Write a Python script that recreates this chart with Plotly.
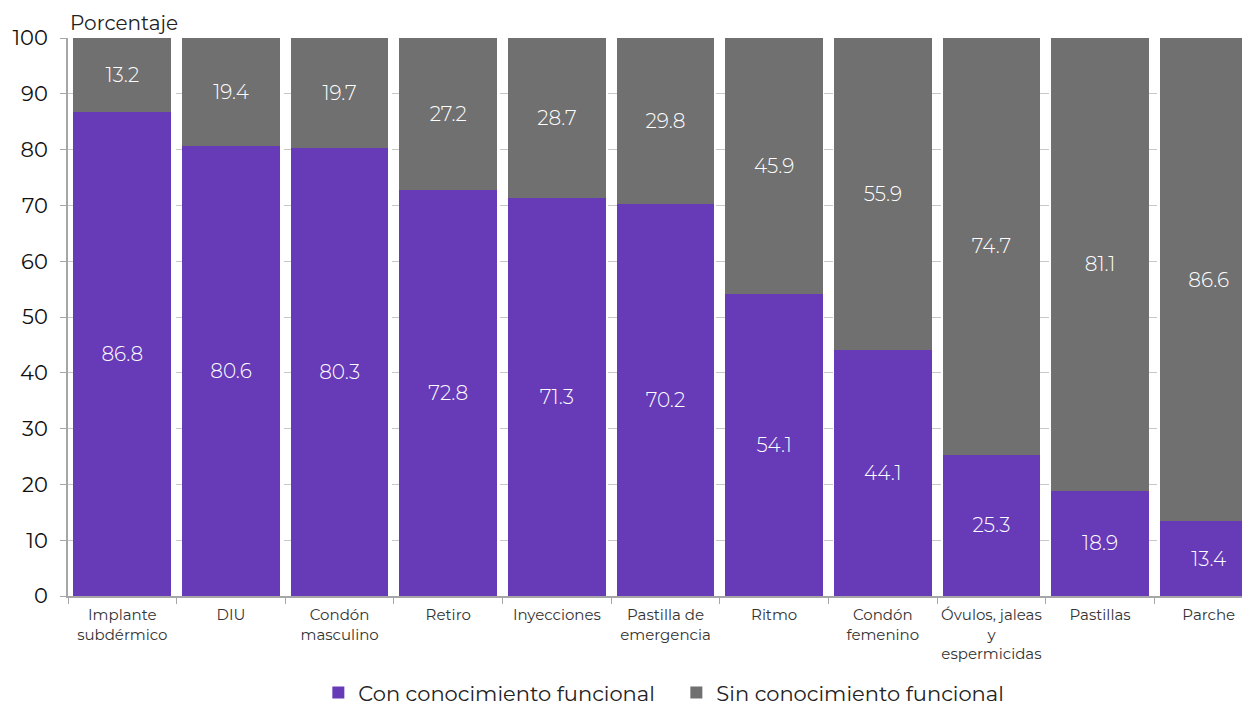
import plotly.graph_objects as go

categories = ["Implante<br>subdérmico", "DIU", "Condón<br>masculino", "Retiro", "Inyecciones",
              "Pastilla de<br>emergencia", "Ritmo", "Condón<br>femenino",
              "Óvulos, jaleas<br>y<br>espermicidas", "Pastillas", "Parche"]
con_conocimiento = [86.8, 80.6, 80.3, 72.8, 71.3, 70.2, 54.1, 44.1, 25.3, 18.9, 13.4]
sin_conocimiento = [13.2, 19.4, 19.7, 27.2, 28.7, 29.8, 45.9, 55.9, 74.7, 81.1, 86.6]
series_names = ["Con conocimiento funcional\u00a0\u00a0\u00a0", "Sin conocimiento funcional"]

FONT = "Montserrat, 'DejaVu Sans', sans-serif"

fig = go.Figure()
fig.add_trace(go.Bar(
    x=categories, y=con_conocimiento, name=series_names[0],
    marker=dict(color="#673AB7", line=dict(width=0)),
    text=[f"{v:.1f}" for v in con_conocimiento], textposition="inside",
    insidetextanchor="middle", textangle=0, constraintext="none",
    textfont=dict(color="white", size=20, family=FONT, weight=300),
))
fig.add_trace(go.Bar(
    x=categories, y=sin_conocimiento, name=series_names[1],
    marker=dict(color="#707070", line=dict(width=0)),
    text=[f"{v:.1f}" for v in sin_conocimiento], textposition="inside",
    insidetextanchor="middle", textangle=0, constraintext="none",
    textfont=dict(color="white", size=20, family=FONT, weight=300),
))

fig.update_layout(
    barmode="stack", bargap=0.1,
    width=1242, height=699,
    margin=dict(l=60, r=0, t=30, b=111, autoexpand=False),
    paper_bgcolor="white", plot_bgcolor="white",
    font=dict(family=FONT, color="#222222"),
    legend=dict(orientation="h", x=0.2118, xanchor="left", y=-0.1735, yanchor="middle",
                font=dict(size=21, family=FONT, color="#222222"), traceorder="normal",
                itemwidth=30, tracegroupgap=0),
    showlegend=True,
    annotations=[dict(text="Porcentaje", xref="paper", yref="paper", x=0, y=1,
                      xanchor="left", yanchor="bottom", xshift=0, yshift=1, showarrow=False,
                      font=dict(size=20, family=FONT, color="#222222"))],
)
fig.update_xaxes(
    automargin=False, tickangle=0, range=[-0.5, 10.38],
    showline=True, linecolor="#A6A6A6", linewidth=2,
    ticks="outside", tickson="boundaries", ticklen=6, tickcolor="#A6A6A6",
    ticklabelstandoff=4,
    tickfont=dict(size=15, family=FONT, color="#333333"),
    showgrid=False,
)
fig.update_yaxes(
    automargin=False,
    range=[0, 100], dtick=10,
    showline=True, linecolor="#A6A6A6", linewidth=2,
    ticks="outside", ticklen=6, tickcolor="#A6A6A6",
    ticklabelstandoff=8,
    tickfont=dict(size=21, family=FONT, color="#111111"),
    showgrid=True, gridcolor="#C8C8C8", griddash="dash", gridwidth=1,
    zeroline=False,
)

fig.write_html("out.html")
